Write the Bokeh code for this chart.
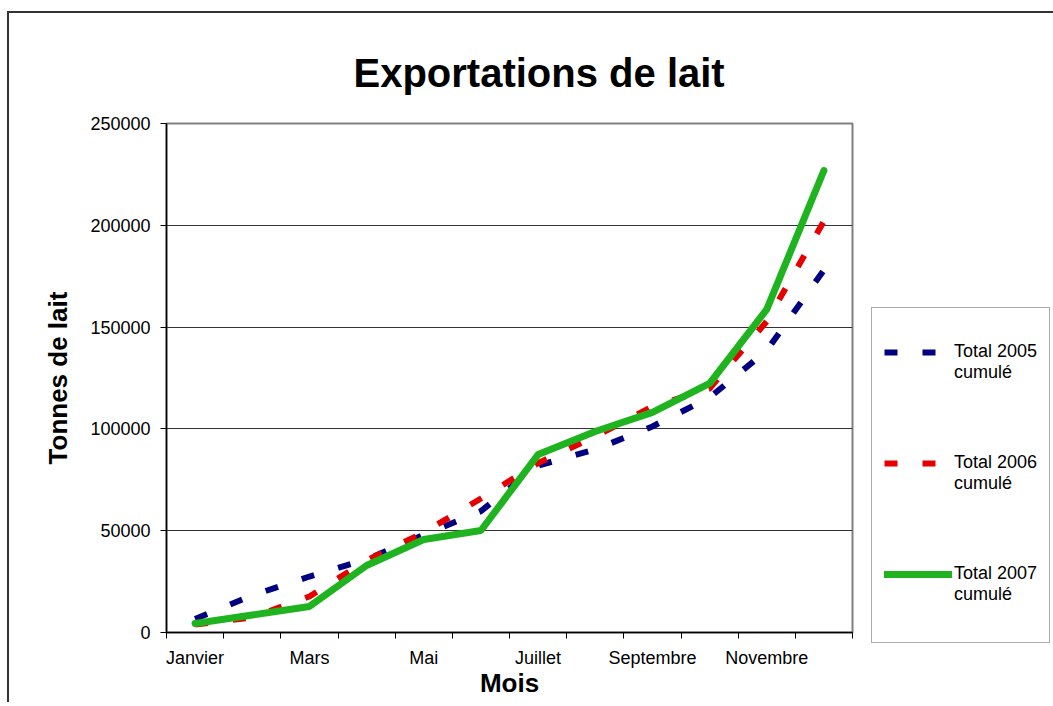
from bokeh.plotting import figure
from bokeh.models import FixedTicker, Legend, LegendItem, Range1d
from bokeh.embed import file_html
from bokeh.resources import INLINE

months = ["Janvier", "Février", "Mars", "Avril", "Mai", "Juin", "Juillet",
          "Août", "Septembre", "Octobre", "Novembre", "Décembre"]
total_2005 = [6600, 18200, 27500, 35900, 47900, 59600, 82000, 89900, 101200, 115400, 138500, 178000]
total_2006 = [3900, 7400, 17700, 35400, 49100, 65800, 83200, 96300, 111000, 119800, 152800, 202000]
total_2007 = [4400, 8600, 12800, 32900, 45700, 50100, 87400, 98700, 108100, 122300, 158700, 226900]
y_ticks = [0, 50000, 100000, 150000, 200000, 250000]
series_names = ["Total 2005\ncumulé", "Total 2006\ncumulé", "Total 2007\ncumulé"]
colors = ["#000080", "#E60000", "#1FB41F"]

FONT = "Liberation Sans"
xs = [i + 0.5 for i in range(len(months))]

p = figure(frame_width=686, frame_height=509, output_backend="svg", toolbar_location=None,
           x_range=Range1d(0, 12), y_range=Range1d(0, 250000),
           min_border_left=157, min_border_right=195, min_border_top=110, min_border_bottom=70)
p.styles = {"border-top": "2px solid #333333", "border-left": "2px solid #333333",
            "margin-top": "11px", "margin-left": "7px"}

p.title.text = "Exportations de lait"
p.title.text_font = FONT
p.title.text_font_size = "40px"
p.title.text_font_style = "bold"
p.title.text_color = "black"
p.title.align = "left"
p.title.offset = 187
p.title.standoff = 58

p.outline_line_color = "#808080"
p.outline_line_width = 2

# x axis
label_ticks = [xs[i] for i in range(0, 12, 2)]
p.xaxis.ticker = FixedTicker(ticks=label_ticks, minor_ticks=list(range(13)))
p.xaxis.major_label_overrides = {xs[i]: months[i] for i in range(0, 12, 2)}
p.xaxis.major_tick_out = 0
p.xaxis.major_tick_in = 0
p.xaxis.minor_tick_out = 6
p.xaxis.minor_tick_in = 0
p.xaxis.minor_tick_line_color = "black"
p.xaxis.major_label_standoff = 9
p.xaxis.axis_label = "Mois"
p.xaxis.axis_label_standoff = -3
p.xgrid.visible = False

# y axis
p.yaxis.ticker = FixedTicker(ticks=y_ticks, minor_ticks=[])
p.yaxis.major_label_overrides = {t: str(t) for t in y_ticks}
p.yaxis.major_tick_out = 6
p.yaxis.major_tick_in = 0
p.yaxis.major_label_standoff = 10
p.yaxis.axis_label = "Tonnes de lait"
p.yaxis.axis_label_standoff = 14
p.ygrid.grid_line_color = "#333333"
p.ygrid.grid_line_width = 1
p.ygrid.ticker = FixedTicker(ticks=y_ticks)

for ax in (p.xaxis, p.yaxis):
    ax.axis_line_color = "black"
    ax.axis_line_width = 1.5
    ax.major_tick_line_color = "black"
    ax.major_label_text_font = FONT
    ax.major_label_text_font_size = "18px"
    ax.major_label_text_color = "black"
    ax.axis_label_text_font = FONT
    ax.axis_label_text_font_size = "26px"
    ax.axis_label_text_font_style = "bold"
    ax.axis_label_text_color = "black"

r05 = p.line(xs, total_2005, line_color=colors[0], line_width=6, line_dash="13 25")
r06 = p.line(xs, total_2006, line_color=colors[1], line_width=6, line_dash="13 25")
r07 = p.line(xs, total_2007, line_color=colors[2], line_width=7, line_cap="round")

# a leading empty line puts the first label line level with its sample line
legend = Legend(items=[LegendItem(label="\n" + series_names[0], renderers=[r05]),
                       LegendItem(label="\n" + series_names[1], renderers=[r06]),
                       LegendItem(label="\n" + series_names[2], renderers=[r07])],
                location=(19, -11))
legend.glyph_width = 68
legend.glyph_height = 60
legend.label_height = 20
legend.label_standoff = 2
legend.label_text_font = FONT
legend.label_text_font_size = "18px"
legend.label_text_color = "black"
legend.label_text_line_height = 1.1
legend.spacing = 48
legend.padding = 12
legend.margin = 0
legend.border_line_color = "#555555"
legend.border_line_width = 1.5
legend.background_fill_color = "white"
if "title_location" in Legend.properties():
    legend.title = " "
    legend.title_text_font_size = "18px"
    legend.title_standoff = 4
    legend.title_location = "below"
p.add_layout(legend, "right")

open("out.html", "w").write(file_html(p, INLINE))
